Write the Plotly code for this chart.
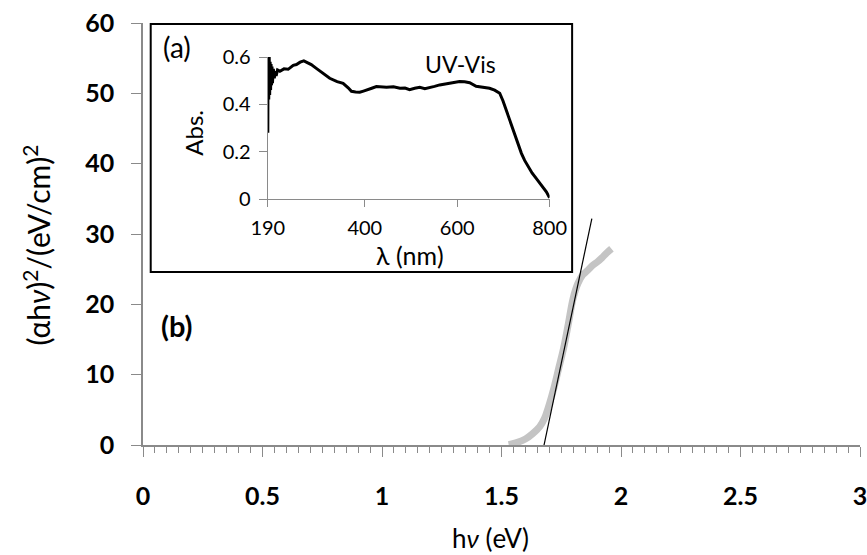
import plotly.graph_objects as go

# Main plot: Tauc plot data
hv = [1.53, 1.56, 1.60, 1.63, 1.66, 1.68, 1.70, 1.72, 1.74, 1.76, 1.78, 1.80,
      1.82, 1.84, 1.86, 1.88, 1.90, 1.92, 1.94, 1.96]
ahv2 = [0.05, 0.3, 0.85, 1.6, 2.6, 3.8, 5.8, 8.2, 11.0, 13.8, 17.3, 20.9,
        23.0, 24.2, 24.8, 25.5, 26.0, 26.6, 27.3, 27.9]

# Tangent (linear fit) line
fit_x = [1.678, 1.878]
fit_y = [0, 32.2]

# Inset: UV-Vis absorbance
lam = [190, 190.5, 191, 191.5, 192, 193, 194, 195, 196, 197, 198, 199, 200, 202, 204,
       206, 208, 211, 216, 225, 234, 245, 252, 260, 268, 275, 284, 295, 303, 315, 324,
       340, 353, 364, 371, 380, 389, 397, 404, 415, 425, 437, 447, 462, 476, 487, 497,
       508, 519, 530, 540, 551, 562, 575, 591, 605, 616, 627, 641, 655, 670, 681, 692,
       699, 706, 713, 721, 730, 739, 746, 753, 762, 771, 778, 786, 793, 800]
absb = [0.28, 0.60, 0.36, 0.59, 0.42, 0.60, 0.44, 0.58, 0.46, 0.57, 0.48, 0.56, 0.49,
        0.55, 0.51, 0.54, 0.52, 0.545, 0.54, 0.55, 0.548, 0.565, 0.568, 0.578, 0.584,
        0.578, 0.568, 0.552, 0.54, 0.522, 0.51, 0.496, 0.489, 0.47, 0.455, 0.452, 0.451,
        0.456, 0.462, 0.468, 0.475, 0.473, 0.472, 0.474, 0.468, 0.469, 0.462, 0.468,
        0.472, 0.466, 0.47, 0.476, 0.482, 0.486, 0.492, 0.496, 0.495, 0.491, 0.476,
        0.472, 0.468, 0.46, 0.447, 0.415, 0.376, 0.335, 0.29, 0.24, 0.193, 0.163, 0.137,
        0.11, 0.087, 0.07, 0.05, 0.03, 0.005]

main_x_ticks = [0, 0.5, 1, 1.5, 2, 2.5, 3]
main_x_labels = ["0", "0.5", "1", "1.5", "2", "2.5", "3"]
inset_x_ticks = [190, 400, 600, 800]
inset_y_ticks = [0, 0.2, 0.4, 0.6]

FONT = "Lato"
AX = "#8a8a8a"

fig = go.Figure()
fig.add_trace(go.Scatter(x=hv, y=ahv2, mode="lines",
                         line=dict(color="#c4c4c4", width=7, shape="spline"),
                         xaxis="x", yaxis="y", showlegend=False))
fig.add_trace(go.Scatter(x=fit_x, y=fit_y, mode="lines",
                         line=dict(color="black", width=1.2),
                         xaxis="x", yaxis="y", showlegend=False))
fig.add_trace(go.Scatter(x=lam, y=absb, mode="lines",
                         line=dict(color="black", width=3),
                         xaxis="x2", yaxis="y2", showlegend=False))

# pixel helpers for paper coords (plot area x:143.3..859.6, y:23..445)
L, R, T, B = 143.3, 859.6, 23.0, 445.0
def px(x):
    return (x - L) / (R - L)
def py(y):
    return (B - y) / (B - T)

fig.update_layout(
    width=867, height=555,
    margin=dict(l=L, r=867 - R, t=T, b=555 - B, autoexpand=False),
    paper_bgcolor="white", plot_bgcolor="rgba(0,0,0,0)",
    font=dict(family=FONT, color="black"),
    xaxis=dict(range=[0, 3], tickvals=main_x_ticks, ticktext=main_x_labels,
               ticks="outside", ticklen=10, tickwidth=1.3, tickcolor=AX,
               showline=True, linecolor=AX, linewidth=1.5, showgrid=False, zeroline=False,
               tickfont=dict(size=25, family=FONT, weight="bold"), ticklabelstandoff=18,
               ticklabeloverflow="allow",
               minor=dict(dtick=0.05, ticks="outside", ticklen=6, tickcolor=AX, tickwidth=1.1,
                          showgrid=False)),
    yaxis=dict(range=[0, 60], dtick=10, ticks="outside", ticklen=10, tickwidth=1.3,
               tickcolor=AX, showline=True, linecolor=AX, linewidth=1.5, showgrid=False,
               zeroline=False, tickfont=dict(size=25, family=FONT, weight="bold"),
               ticklabelstandoff=12, ticklabeloverflow="allow"),
    xaxis2=dict(domain=[px(268), px(549.5)], anchor="y2", range=[190, 800],
                tickvals=inset_x_ticks, ticks="outside", ticklen=7, tickcolor=AX,
                showline=True, linecolor=AX, linewidth=1.3, showgrid=False, zeroline=False,
                tickfont=dict(size=20, family=FONT), ticklabelstandoff=4),
    yaxis2=dict(domain=[py(199), py(57)], anchor="x2", range=[0, 0.6],
                tickvals=inset_y_ticks, ticktext=["0", "0.2", "0.4", "0.6"],
                ticks="outside", ticklen=8, tickcolor=AX,
                showline=True, linecolor=AX, linewidth=1.3, showgrid=False, zeroline=False,
                tickfont=dict(size=20, family=FONT), ticklabelstandoff=4),
    shapes=[dict(type="rect", xref="paper", yref="paper",
                 x0=px(151), x1=px(572), y0=py(272), y1=py(24),
                 line=dict(color="black", width=2), fillcolor="white", layer="below")],
    annotations=[
        dict(text="h<i>ν</i> (eV)", xref="paper", yref="paper", x=px(490), y=py(538),
             showarrow=False, font=dict(size=26, family=FONT), xanchor="center", yanchor="middle"),
        dict(text="(αh<i>ν</i>)<sup>2</sup>/(eV/cm)<sup>2</sup>", xref="paper", yref="paper",
             x=px(37), y=py(245), textangle=-90, showarrow=False,
             font=dict(size=30, family=FONT), xanchor="center", yanchor="middle"),
        dict(text="(a)", xref="paper", yref="paper", x=px(177), y=py(47), showarrow=False,
             font=dict(size=28, family=FONT), xanchor="center", yanchor="middle"),
        dict(text="UV-Vis", xref="paper", yref="paper", x=px(460), y=py(64), showarrow=False,
             font=dict(size=23, family=FONT), xanchor="center", yanchor="middle"),
        dict(text="Abs.", xref="paper", yref="paper", x=px(193), y=py(133), textangle=-90,
             showarrow=False, font=dict(size=24, family=FONT), xanchor="center", yanchor="middle"),
        dict(text="λ (nm)", xref="paper", yref="paper", x=px(410), y=py(255), showarrow=False,
             font=dict(size=25, family=FONT), xanchor="center", yanchor="middle"),
        dict(text="(b)", xref="paper", yref="paper", x=px(177), y=py(325), showarrow=False,
             font=dict(size=29, family=FONT, weight="bold"), xanchor="center", yanchor="middle"),
    ],
)

fig.write_html("out.html", config={"displayModeBar": False},
               post_script="document.body.style.margin='0px';")
